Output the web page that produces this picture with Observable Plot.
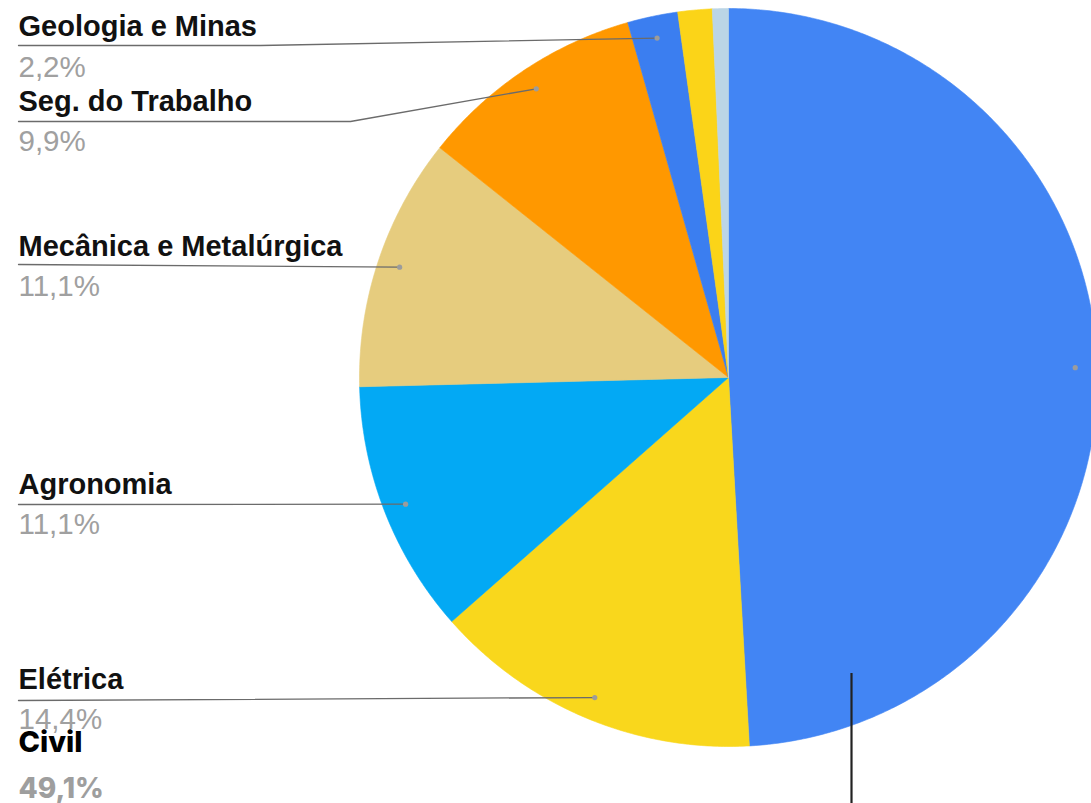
<!DOCTYPE html>
<html>
<head>
<meta charset="utf-8">
<script src="https://cdn.jsdelivr.net/npm/d3@7"></script>
<script src="https://cdn.jsdelivr.net/npm/@observablehq/plot@0.6"></script>
<style>
  html, body { margin: 0; padding: 0; background: #fff; }
  #chart svg { display: block; }
</style>
</head>
<body>
<div id="chart"></div>
<script>
// ---- data (clockwise from 12 o'clock) ----
const categories = ["Civil", "Elétrica", "Agronomia", "Mecânica e Metalúrgica", "Seg. do Trabalho", "Geologia e Minas", "Outros 1", "Outros 2"];
const values = [49.1, 14.4, 11.1, 11.1, 9.9, 2.2, 1.5, 0.7];
const percentLabels = ["49,1%", "14,4%", "11,1%", "11,1%", "9,9%", "2,2%", "", ""];

// ---- styles / layout ----
const sliceColors = ["#4285F4", "#F9D71C", "#03A9F4", "#E6CC7E", "#FF9800", "#3B7EF0", "#FBD418", "#BBD5E6"];
const W = 1091, H = 803;
const cx = 728, cy = 377, R = 369, anchorR = 0.94 * R;
// label layout: name baseline, percent baseline, leader y, optional bend
const labelLayout = {
  "Geologia e Minas":       {ny: 35,  py: 76,  ly: 45,  bx: 260, by: 45},
  "Seg. do Trabalho":       {ny: 110, py: 150, ly: 121, bx: 350, by: 121},
  "Mecânica e Metalúrgica": {ny: 255, py: 295, ly: 264, bx: null},
  "Agronomia":              {ny: 493, py: 533, ly: 504, bx: null},
  "Elétrica":               {ny: 688, py: 728, ly: 700, bx: null}
};
const labelX = 18;

// ---- geometry from data ----
const total = d3.sum(values);
let acc = 0;
const slices = values.map((v, i) => {
  const a0 = acc / total * 2 * Math.PI;
  acc += v;
  const a1 = acc / total * 2 * Math.PI;
  const pts = [{x: cx, y: cy}];
  const n = Math.max(2, Math.ceil((a1 - a0) / (Math.PI / 360)));
  for (let k = 0; k <= n; k++) {
    const a = a0 + (a1 - a0) * k / n;
    pts.push({x: cx + R * Math.sin(a), y: cy - R * Math.cos(a)});
  }
  pts.push({x: cx, y: cy});
  const am = (a0 + a1) / 2;
  return {name: categories[i], color: sliceColors[i], pts,
          ax: cx + anchorR * Math.sin(am), ay: cy - anchorR * Math.cos(am)};
});

const marks = [];
for (const s of slices) {
  marks.push(Plot.line(s.pts, {x: "x", y: "y", fill: s.color, stroke: s.color, strokeWidth: 0.6, curve: "linear"}));
}

// leaders for left labels
const anchors = [];
slices.forEach((s) => {
  const L = labelLayout[s.name];
  if (!L) return;
  const path = [{x: labelX, y: L.ly}];
  if (L.bx != null) path.push({x: L.bx, y: L.by});
  path.push({x: s.ax, y: s.ay});
  marks.push(Plot.line(path, {x: "x", y: "y", stroke: "#6b6b6b", strokeWidth: 1.3}));
  anchors.push({x: s.ax, y: s.ay});
});
// Civil anchor dot and its vertical leader
anchors.push({x: slices[0].ax, y: slices[0].ay});
marks.push(Plot.dot(anchors, {x: "x", y: "y", r: 2.6, fill: "#9c9c9c", stroke: "none"}));
marks.push(Plot.ruleX([851], {y1: 673, y2: H, stroke: "#222", strokeWidth: 2.2}));

// label texts
const leftLabels = slices.filter(s => labelLayout[s.name]).map(s => ({
  name: s.name,
  pct: percentLabels[categories.indexOf(s.name)],
  ny: labelLayout[s.name].ny,
  py: labelLayout[s.name].py
}));
marks.push(Plot.text(leftLabels, {x: () => labelX, y: "py", text: "pct", textAnchor: "start", lineAnchor: "bottom",
  fontFamily: "Liberation Sans, Arial, sans-serif", fontSize: 29.5, fill: "#a0a0a0"}));
marks.push(Plot.text(leftLabels, {x: () => labelX, y: "ny", text: "name", textAnchor: "start", lineAnchor: "bottom",
  fontFamily: "Liberation Sans, Arial, sans-serif", fontSize: 29, fontWeight: "bold", fill: "#111"}));

// Civil label (different style)
const civil = [{name: categories[0], pct: percentLabels[0]}];
marks.push(Plot.text(civil, {x: () => labelX, y: () => 751, text: "name", textAnchor: "start", lineAnchor: "bottom",
  fontFamily: "Inter, Lato, sans-serif", fontSize: 29, fontWeight: 800, fill: "#000"}));
marks.push(Plot.text(civil, {x: () => labelX, y: () => 797, text: "pct", textAnchor: "start", lineAnchor: "bottom",
  fontFamily: "Inter, Lato, sans-serif", fontSize: 28, fontWeight: 800, fill: "#9e9e9e"}));

const chart = Plot.plot({
  width: W,
  height: H,
  margin: 0,
  x: {type: "linear", domain: [0, W], range: [0, W], axis: null},
  y: {type: "linear", domain: [0, H], range: [0, H], axis: null},
  style: {background: "#fff", overflow: "hidden"},
  marks
});
document.getElementById("chart").appendChild(chart);
</script>
</body>
</html>
